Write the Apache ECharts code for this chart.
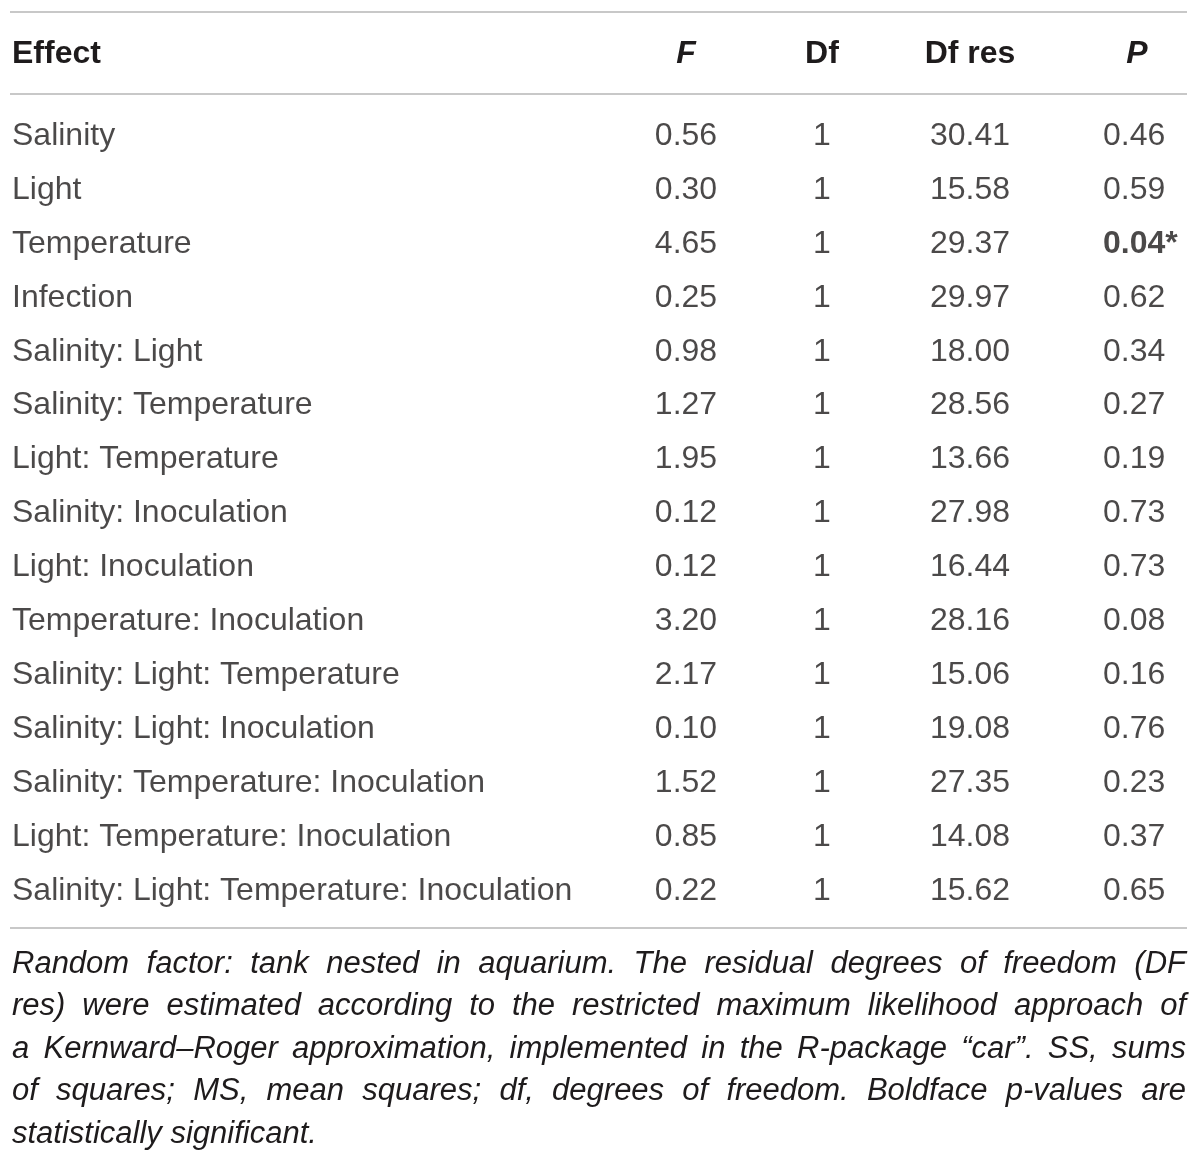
<!DOCTYPE html>
<html><head><meta charset="utf-8">
<script src="https://cdn.jsdelivr.net/npm/echarts@6/dist/echarts.min.js"></script>
<style>html,body{margin:0;padding:0;background:#fff}#main{width:1200px;height:1163px}</style>
</head><body><div id="main"></div>
<script>
// ---- data ----
const columns = ['Effect', 'F', 'Df', 'Df res', 'P'];
const effects = [
  'Salinity', 'Light', 'Temperature', 'Infection', 'Salinity: Light',
  'Salinity: Temperature', 'Light: Temperature', 'Salinity: Inoculation',
  'Light: Inoculation', 'Temperature: Inoculation', 'Salinity: Light: Temperature',
  'Salinity: Light: Inoculation', 'Salinity: Temperature: Inoculation',
  'Light: Temperature: Inoculation', 'Salinity: Light: Temperature: Inoculation'
];
const fValues = [0.56, 0.30, 4.65, 0.25, 0.98, 1.27, 1.95, 0.12, 0.12, 3.20, 2.17, 0.10, 1.52, 0.85, 0.22];
const dfValues = [1, 1, 1, 1, 1, 1, 1, 1, 1, 1, 1, 1, 1, 1, 1];
const dfResValues = [30.41, 15.58, 29.37, 29.97, 18.00, 28.56, 13.66, 27.98, 16.44, 28.16, 15.06, 19.08, 27.35, 14.08, 15.62];
const pValues = [0.46, 0.59, 0.04, 0.62, 0.34, 0.27, 0.19, 0.73, 0.73, 0.08, 0.16, 0.76, 0.23, 0.37, 0.65];
const significant = [false, false, true, false, false, false, false, false, false, false, false, false, false, false, false];
const footnoteLines = [
  'Random factor: tank nested in aquarium. The residual degrees of freedom (DF',
  'res) were estimated according to the restricted maximum likelihood approach of',
  'a Kernward\u2013Roger approximation, implemented in the R-package \u201ccar\u201d. SS, sums',
  'of squares; MS, mean squares; df, degrees of freedom. Boldface p-values are',
  'statistically significant.'
];

// ---- layout / style ----
const W = 1200, H = 1163;
const FONT = '"Liberation Sans", Arial, Helvetica, sans-serif';
const TEXT = '#1e1b1c';
const RULE = '#c8c8c8';
const tableSize = 32;
const footSize = 31;
const colLayout = [
  { x: 12, align: 'left' },
  { x: 686, align: 'center' },
  { x: 822, align: 'center' },
  { x: 970, align: 'center' },
  { x: 1103, align: 'left', headerX: 1137, headerAlign: 'center' }
];
const headerY = 54;
const rules = [12, 94, 928];
const firstRowY = 136, lastRowY = 891;
const footTop = 964, footStep = 42.5, footLeft = 12, footRight = 1186;

const rowStep = (lastRowY - firstRowY) / (effects.length - 1);
const gridTop = firstRowY - rowStep / 2;
const gridHeight = rowStep * effects.length;

const fmt2 = v => v.toFixed(2);
const columnTexts = [
  effects.map(e => e),
  fValues.map(fmt2),
  dfValues.map(v => String(v)),
  dfResValues.map(fmt2),
  pValues.map((v, i) => significant[i] ? fmt2(v) + '*' : fmt2(v))
];

const series = columnTexts.map((texts, c) => ({
  type: 'scatter',
  symbolSize: 0,
  silent: true,
  animation: false,
  data: texts.map((t, i) => ({
    value: [colLayout[c].x, i, t],
    label: (c === 4 && significant[i]) ? { fontWeight: 'bold' } : undefined
  })),
  label: {
    show: true,
    position: 'inside',
    align: colLayout[c].align,
    verticalAlign: 'middle',
    formatter: p => p.value[2],
    fontFamily: FONT,
    fontSize: tableSize,
    color: TEXT
  },
  emphasis: { disabled: true }
}));

// graphic: rules, header, footnote
const graphic = [];
rules.forEach(y => graphic.push({
  type: 'line', silent: true,
  shape: { x1: 10, y1: y, x2: 1187, y2: y },
  style: { stroke: RULE, lineWidth: 2 }
}));
columns.forEach((name, c) => {
  const isItalic = (name === 'F' || name === 'P');
  graphic.push({
    type: 'text', silent: true,
    x: colLayout[c].headerX !== undefined ? colLayout[c].headerX : colLayout[c].x,
    y: headerY,
    style: {
      text: name,
      font: (isItalic ? 'italic ' : '') + 'bold ' + tableSize + 'px ' + FONT,
      fill: TEXT,
      textAlign: colLayout[c].headerAlign || colLayout[c].align,
      textVerticalAlign: 'middle'
    }
  });
});

// justified footnote
const canvas = document.createElement('canvas');
const ctx = canvas.getContext('2d');
const footFont = 'italic ' + footSize + 'px ' + FONT;
ctx.font = footFont;
footnoteLines.forEach((line, li) => {
  const y = footTop + li * footStep;
  const words = line.split(' ');
  const isLast = li === footnoteLines.length - 1;
  const widths = words.map(w => ctx.measureText(w).width);
  const total = widths.reduce((a, b) => a + b, 0);
  const gap = isLast || words.length < 2
    ? ctx.measureText(' ').width
    : (footRight - footLeft - total) / (words.length - 1);
  let x = footLeft;
  words.forEach((w, wi) => {
    graphic.push({
      type: 'text', silent: true, x: x, y: y,
      style: { text: w, font: footFont, fill: TEXT, textAlign: 'left', textVerticalAlign: 'middle' }
    });
    x += widths[wi] + gap;
  });
});

const chart = echarts.init(document.getElementById('main'), null, { renderer: 'canvas' });
chart.setOption({
  backgroundColor: '#ffffff',
  animation: false,
  grid: { left: 0, width: W, top: gridTop, height: gridHeight, containLabel: false },
  xAxis: { type: 'value', min: 0, max: W, show: false },
  yAxis: { type: 'category', data: effects, inverse: true, show: false },
  series: series,
  graphic: graphic
});
</script>
</body></html>
